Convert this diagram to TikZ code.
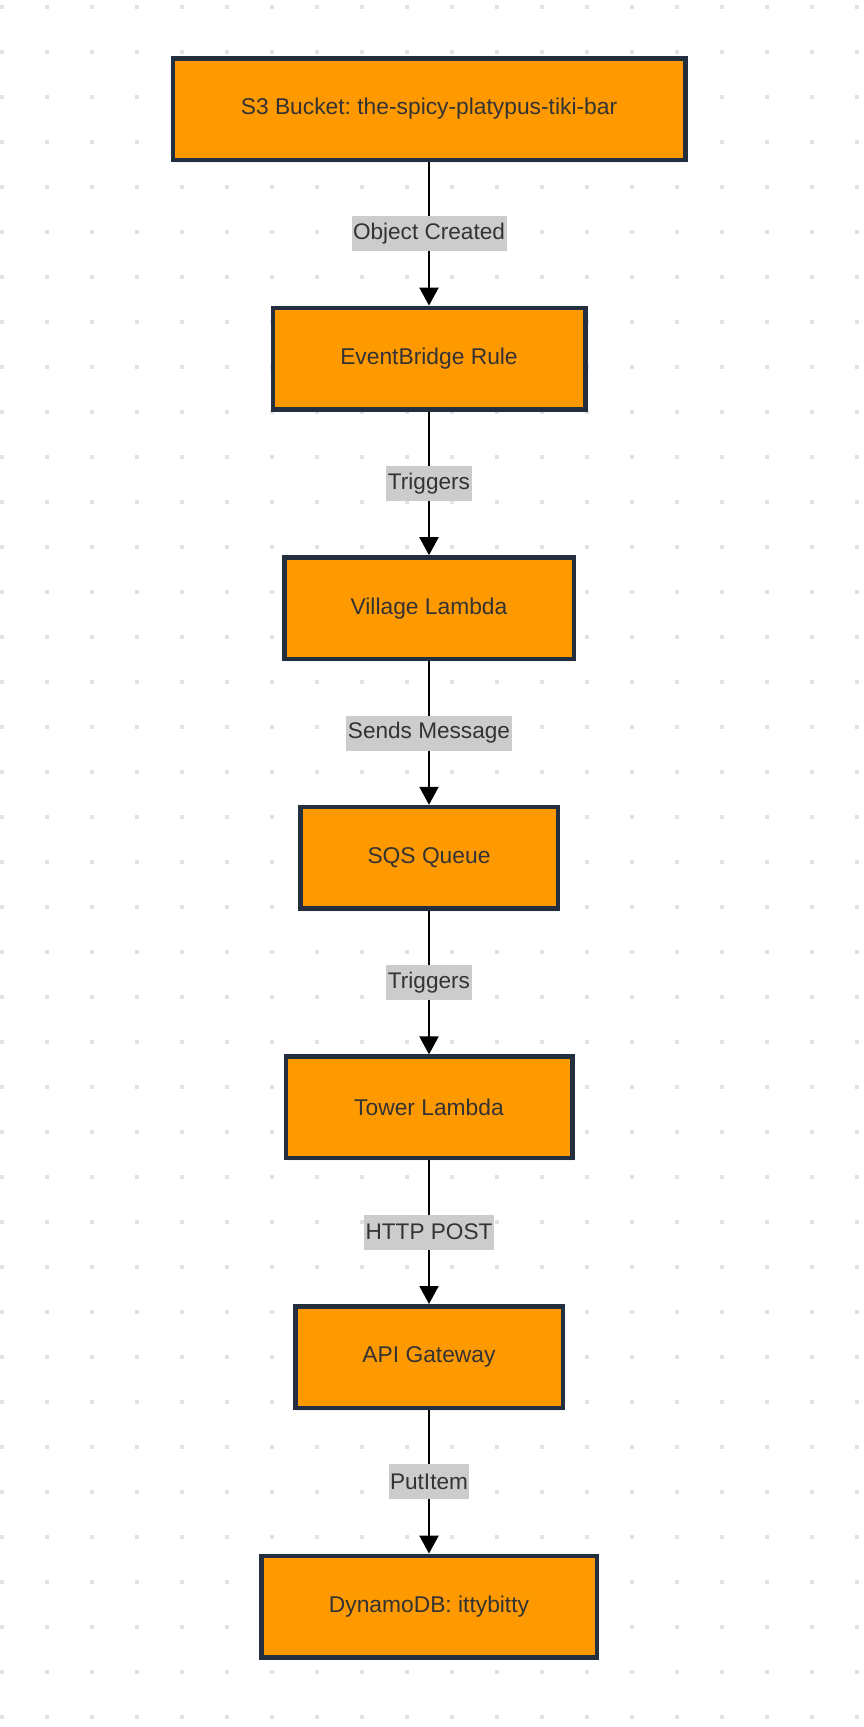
\documentclass[tikz,border=0pt]{standalone}
\usepackage{fontspec}
\setmainfont{Liberation Sans}
\frenchspacing
\usetikzlibrary{positioning, arrows.meta, shadows}

\definecolor{awsorange}{HTML}{FF9900}
\definecolor{awsnavy}{HTML}{232F3E}
\definecolor{txtgray}{HTML}{333333}
\definecolor{dotgray}{HTML}{E2E2E2}
\definecolor{lblgray}{HTML}{CCCCCC}

\tikzset{
    svc/.style={draw=awsnavy, line width=4.5pt, fill=awsorange, text=txtgray,
        minimum height=101.5pt, font=\fontsize{22.8}{27}\selectfont,
        drop shadow={shadow xshift=1pt, shadow yshift=-3pt, opacity=0.08}},
    lbl/.style={fill=lblgray, text=txtgray, inner xsep=1.5pt, inner ysep=0pt,
        minimum height=35pt, font=\fontsize{22.6}{27}\selectfont},
    flow/.style={line width=2pt, -{Triangle[width=19pt, length=18pt]}},
}

\begin{document}
\begin{tikzpicture}[x=1pt, y=1pt, node distance=143.6pt]
    \useasboundingbox (0,0) rectangle (863,-1727);
    % dotted background
    \foreach \i in {0,...,19}
        \foreach \j in {0,...,38}
            \fill[dotgray] (2+45*\i-2, -7-45*\j+2) rectangle ++(4,-4);

    \node[svc, minimum width=512.5pt] (s3) at (429,-109) {S3 Bucket: the-spicy-platypus-tiki-bar};
    \node[svc, minimum width=312.5pt, below=of s3] (rule) {EventBridge Rule};
    \node[svc, minimum width=289.5pt, below=of rule] (village) {Village Lambda};
    \node[svc, minimum width=257.5pt, below=of village] (sqs) {SQS Queue};
    \node[svc, minimum width=286.5pt, below=of sqs] (tower) {Tower Lambda};
    \node[svc, minimum width=267.5pt, below=of tower] (api) {API Gateway};
    \node[svc, minimum width=335.5pt, below=of api] (dynamo) {DynamoDB: ittybitty};

    \draw[flow] (s3) -- node[lbl] {Object Created} (rule);
    \draw[flow] (rule) -- node[lbl] {Triggers} (village);
    \draw[flow] (village) -- node[lbl] {Sends Message} (sqs);
    \draw[flow] (sqs) -- node[lbl] {Triggers} (tower);
    \draw[flow] (tower) -- node[lbl] {HTTP POST} (api);
    \draw[flow] (api) -- node[lbl] {PutItem} (dynamo);
\end{tikzpicture}
\end{document}
